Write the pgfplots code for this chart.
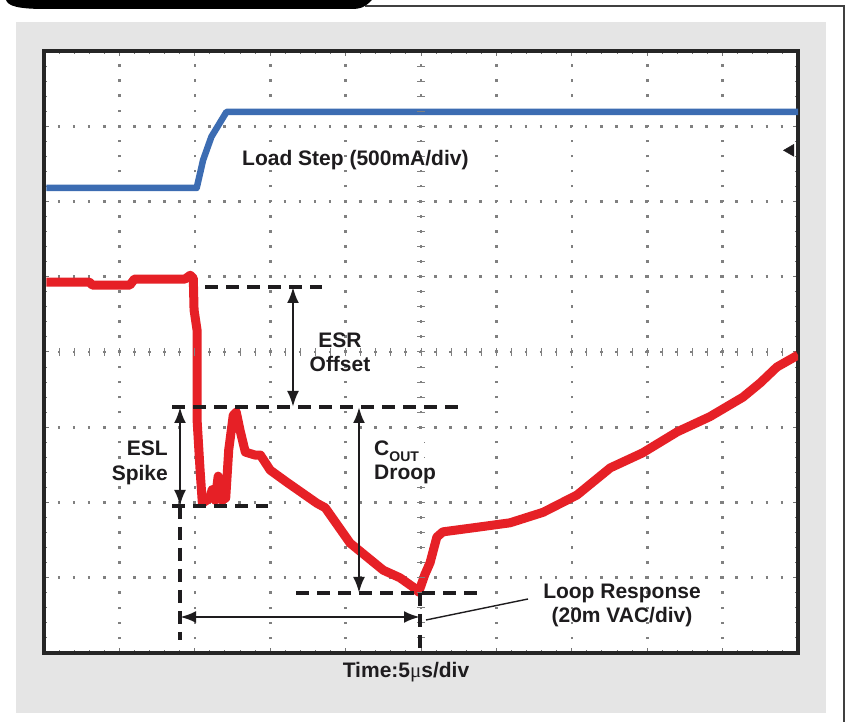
\documentclass[border=0pt]{standalone}
\usepackage{pgfplots}
\pgfplotsset{compat=1.18}
\usepackage{fontspec}
\setmainfont{Liberation Sans}
\newfontfamily\seriffont{Liberation Serif}
\usetikzlibrary{arrows.meta}
\definecolor{scopered}{RGB}{230,32,38}
\definecolor{scopeblue}{RGB}{60,108,178}
\definecolor{panel}{RGB}{229,229,229}
\definecolor{ink}{RGB}{30,28,30}
\begin{document}
\begin{tikzpicture}[x=1bp,y=1bp,
  lbl/.style={font=\fontsize{21bp}{25bp}\selectfont\bfseries, inner sep=0pt, text=ink},
  dsh/.style={ink, line width=3.1bp, dash pattern=on 13bp off 8bp},
  arr/.style={ink, line width=2.8bp, {Latex[length=16bp,width=12bp]}-{Latex[length=16bp,width=12bp]}}]
\fill[white] (0,0) rectangle (847,722);
\fill[panel] (16,9) rectangle (826,700);
\draw[black!75, line width=1.5bp] (365,716) -- (844,716) -- (844,0);
\fill[black] (6,722) .. controls (8,716) and (18,713) .. (45,713) -- (352,713) .. controls (362,713) and (366,716) .. (372,722) -- cycle;
\begin{axis}[at={(44bp,69bp)}, anchor=south west, width=754bp, height=602bp, scale only axis,
  xmin=0, xmax=10, ymin=0, ymax=8,
  xtick={0,...,10}, ytick={0,...,8}, minor x tick num=4, minor y tick num=4,
  xticklabels={}, yticklabels={},
  tick align=inside, major tick length=5bp, minor tick length=3bp,
  tick style={black!55, line width=1bp}, xtick pos=both, ytick pos=both,
  grid=major,
  major grid style={black!50, line width=2.6bp, dash pattern=on 2.6bp off 12.46bp, dash phase=1.3bp},
  axis line style={black!85, line width=3.2bp},
  axis background/.style={fill=white}]
% load step (blue)
\addplot[scopeblue, line width=6.5bp, line join=round] coordinates {
(0.03,6.18) (2.025,6.18) (2.11,6.55) (2.22,6.86) (2.42,7.19) (10,7.19)};
% output voltage (red)
\addplot[scopered, line width=9bp, line join=round] coordinates {
(0.03,4.93) (0.60,4.93) (0.64,4.89) (1.14,4.89) (1.20,4.97) (1.87,4.97) (1.94,5.02) (1.98,4.98)
(1.99,4.56) (2.03,4.29) (2.03,3.10) (2.07,2.43) (2.10,1.99) (2.20,2.06) (2.23,2.17) (2.27,2.03)
(2.31,2.35) (2.36,2.03) (2.41,2.06) (2.45,2.70) (2.51,3.16) (2.55,3.20) (2.60,2.96) (2.67,2.67)
(2.80,2.63) (2.87,2.63) (3.00,2.43) (3.22,2.27) (3.62,1.99) (3.73,1.93) (4.06,1.46) (4.50,1.10)
(4.72,1.00) (4.89,0.88) (4.97,0.81) (5.05,1.04) (5.12,1.20) (5.21,1.54) (5.29,1.61) (5.74,1.67)
(6.18,1.73) (6.62,1.87) (7.07,2.10) (7.51,2.46) (7.94,2.66) (8.40,2.94) (8.83,3.14) (9.27,3.40)
(9.50,3.59) (9.72,3.80) (9.93,3.92) (10,3.96)};
% channel marker
\addplot[only marks, mark=triangle*, mark size=7bp, mark options={rotate=90, fill=ink, draw=ink}] coordinates {(9.90,6.68)};
\end{axis}
% centre graticule ticks
\foreach \i in {1,...,49} \draw[black!50, line width=1bp] (44+\i*15.08,366) -- ++(0,8);
\foreach \i in {1,...,39} \draw[black!50, line width=1bp] (417,69+\i*15.05) -- ++(8,0);
% annotations
\draw[dsh] (205,435) -- (322,435);
\draw[arr] (293,435) -- (293,315);
\draw[dsh] (172,315) -- (462,315);
\draw[arr] (180,315) -- (180,216);
\draw[dsh] (172,216) -- (268,216);
\draw[dsh] (180,216) -- (180,82);
\draw[arr] (359,315) -- (359,129);
\draw[dsh] (296,129) -- (480,129);
\draw[arr] (180,105) -- (420,105);
\draw[dsh] (420,129) -- (420,74);
\draw[ink, line width=1.4bp] (426,102) -- (528,123);
% labels
\node[lbl, anchor=base west] at (242,556) {Load Step (500mA/div)};
\node[lbl, anchor=base] at (340,374) {ESR};
\node[lbl, anchor=base] at (340,350) {Offset};
\node[lbl, anchor=base east] at (168,266) {ESL};
\node[lbl, anchor=base east] at (168,241) {Spike};
\node[lbl, anchor=base west, fill=white, inner xsep=5bp, inner ysep=3bp] at (369,266) {C\raisebox{-6bp}{\fontsize{14bp}{14bp}\selectfont OUT}};
\node[lbl, anchor=base west, fill=white, inner xsep=5bp, inner ysep=2bp] at (369,242) {Droop};
\node[lbl, anchor=base] at (622,123) {Loop Response};
\node[lbl, anchor=base] at (622,99) {(20m VAC/div)};
\node[lbl, anchor=base] at (406,44) {Time:5{\seriffont\mdseries μ}s/div};
\pgfresetboundingbox
\path[use as bounding box] (0,0) rectangle (847,722);
\end{tikzpicture}
\end{document}
